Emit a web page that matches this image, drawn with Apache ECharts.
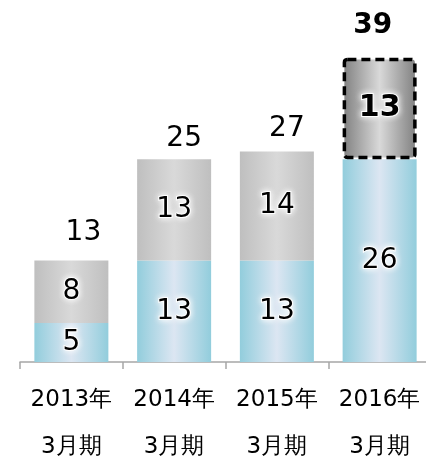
<!DOCTYPE html>
<html><head><meta charset="utf-8">
<script src="https://cdn.jsdelivr.net/npm/echarts@6/dist/echarts.min.js"></script>
<style>html,body{margin:0;padding:0;background:#fff}#c{width:426px;height:462px}</style>
</head><body><div id="c"></div>
<script>
const categories = ['2013年\n3月期', '2014年\n3月期', '2015年\n3月期', '2016年\n3月期'];
const lowerValues = [5, 13, 13, 26];
const upperValues = [8, 13, 14, 13];
const totals = [13, 25, 27, 39];

const FONT = '"DejaVu Sans", Verdana, sans-serif';
const grad = (e, c) => new echarts.graphic.LinearGradient(0, 0, 1, 0, [
  {offset: 0, color: e}, {offset: 0.5, color: c}, {offset: 1, color: e}]);
const glow = {color: '#000', fontFamily: FONT, fontSize: 28, textBorderColor: '#fff', textBorderWidth: 2,
  textShadowColor: '#fff', textShadowBlur: 6};
const totalOffsets = [[12, -28], [10, -28], [10, -23], [-7, -32]];

const chart = echarts.init(document.getElementById('c'), null, {renderer: 'canvas'});
chart.setOption({
  animation: false,
  grid: {left: 20, right: -5, top: 50, bottom: 100, containLabel: false, outerBoundsMode: 'none'},
  xAxis: {
    type: 'category', data: categories,
    axisLine: {lineStyle: {color: '#A6A6A6', width: 1.5}},
    axisTick: {show: true, interval: 0, length: 7, lineStyle: {color: '#A6A6A6', width: 1.5}},
    axisLabel: {interval: 0, color: '#000', fontFamily: FONT, fontSize: 23, lineHeight: 47, margin: 15}
  },
  yAxis: {type: 'value', min: 0, max: 40, show: false},
  series: [
    {
      type: 'bar', stack: 's', barWidth: 74,
      data: lowerValues,
      itemStyle: {color: grad('#92CDDC', '#DCE6F2')},
      label: Object.assign({show: true, position: 'inside'}, glow)
    },
    {
      type: 'bar', stack: 's', barWidth: 74,
      data: upperValues.map((v, i) => i === 3 ? {
        value: v,
        itemStyle: {color: grad('#7F7F7F', '#D9D9D9'), borderColor: '#000', borderWidth: 3.5,
          borderType: [9, 5], borderRadius: 3},
        label: {fontWeight: 'bold', fontSize: 30}
      } : v),
      itemStyle: {color: grad('#BFBFBF', '#D9D9D9')},
      label: Object.assign({show: true, position: 'inside'}, glow)
    },
    {
      type: 'scatter', symbolSize: 0, silent: true,
      itemStyle: {color: '#fff', opacity: 1},
      data: totals.map((v, i) => ({
        value: v,
        label: {offset: totalOffsets[i], fontWeight: i === 3 ? 'bold' : 'normal'}
      })),
      label: {show: true, position: 'inside', color: '#000', fontFamily: FONT, fontSize: 28,
        textBorderWidth: 0, textShadowBlur: 0}
    }
  ]
});
</script></body></html>
